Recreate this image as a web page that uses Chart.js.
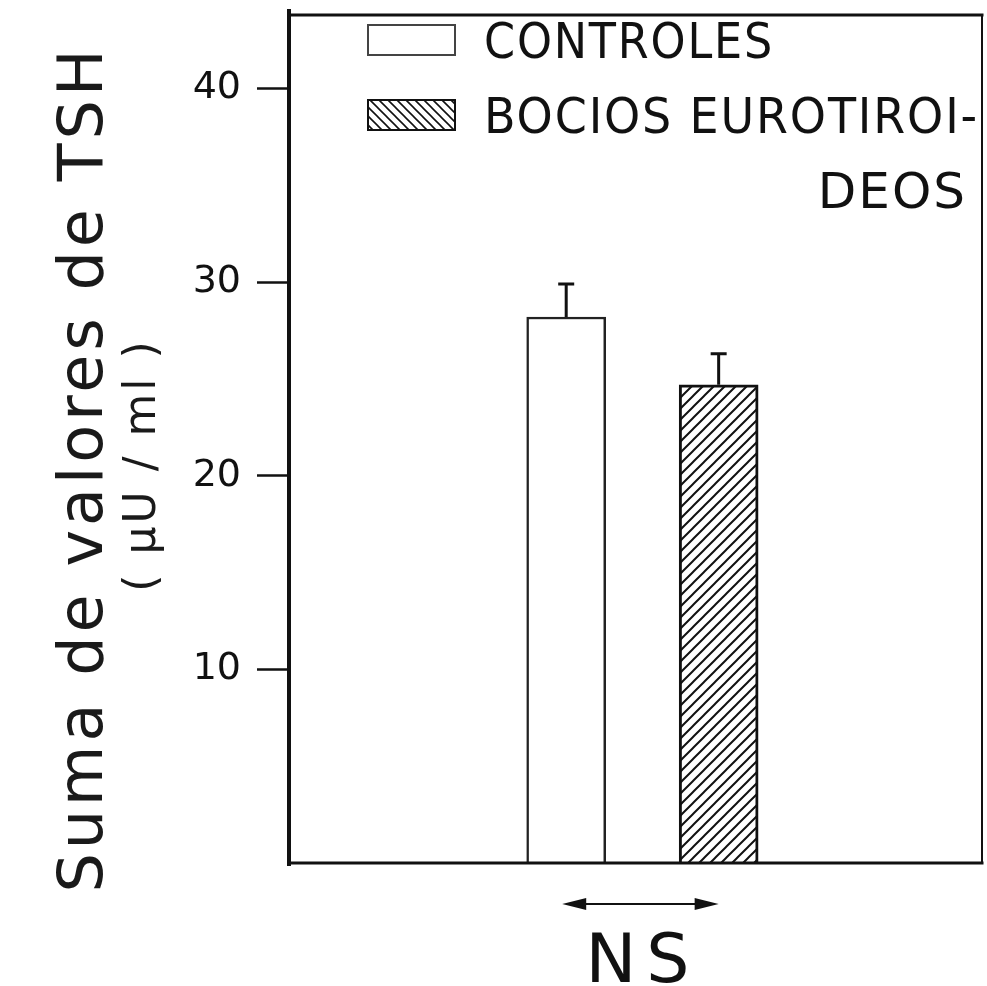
<!DOCTYPE html>
<html>
<head>
<meta charset="utf-8">
<script src="https://cdn.jsdelivr.net/npm/chart.js@4.4.0/dist/chart.umd.min.js"></script>
<style>
  html, body { margin: 0; padding: 0; background: #fff; }
  #wrap { width: 987px; height: 986px; }
</style>
</head>
<body>
<div id="wrap"><canvas id="tshChart"></canvas></div>
<script>
// TSH sums per group, mean and error
const groups = ['CONTROLES', 'BOCIOS EUROTIROIDEOS'];
const legendLines = [['CONTROLES'], ['BOCIOS EUROTIROI-', 'DEOS']];
const tshMeans = [28.2, 24.7];
const tshErrors = [1.7, 1.6];
const yTicks = [10, 20, 30, 40];
const axisTitle = ['Suma de valores de TSH', '( µU / ml )'];
const diffLabel = 'NS';

// where each group sits along the hidden x scale (0..10)
const groupX = [4.0, 6.2];

const INK = '#111';
const FONT = '"DejaVu Sans", sans-serif';

// small tiled pattern of diagonal lines
const makeHatch = (size, dir, width) => {
    const c = document.createElement('canvas');
    c.width = c.height = size;
    const g = c.getContext('2d');
    g.fillStyle = '#fff';
    g.fillRect(0, 0, size, size);
    g.strokeStyle = INK;
    g.lineWidth = width;
    g.beginPath();
    if (dir === '/') {
        g.moveTo(0, size); g.lineTo(size, 0);
        g.moveTo(-2, 2); g.lineTo(2, -2);
        g.moveTo(size - 2, size + 2); g.lineTo(size + 2, size - 2);
    } else {
        g.moveTo(0, 0); g.lineTo(size, size);
        g.moveTo(size - 2, -2); g.lineTo(size + 2, 2);
        g.moveTo(-2, size - 2); g.lineTo(2, size + 2);
    }
    g.stroke();
    return g.createPattern(c, 'repeat');
};

const barHatch = makeHatch(11, '/', 2);
const keyHatch = makeHatch(9, '\\', 1.6);

const drawText = (ctx, text, x, y, size, opts = {}) => {
    ctx.font = `${size}px ${FONT}`;
    ctx.letterSpacing = (opts.spacing || 0) + 'px';
    ctx.textAlign = opts.align || 'left';
    ctx.textBaseline = 'alphabetic';
    if (opts.maxWidth) {
        ctx.fillText(text, x, y, opts.maxWidth);
    } else {
        ctx.fillText(text, x, y);
    }
};

// vertical error whiskers above each bar
const errorBars = {
    id: 'errorBars',
    afterDatasetsDraw(chart) {
        const { ctx, scales: { y } } = chart;
        ctx.save();
        ctx.strokeStyle = INK;
        ctx.lineWidth = 3;
        chart.data.datasets.forEach((ds, i) => {
            const bar = chart.getDatasetMeta(i).data[0];
            const top = y.getPixelForValue(tshMeans[i] + tshErrors[i]);
            ctx.beginPath();
            ctx.moveTo(bar.x, bar.y);
            ctx.lineTo(bar.x, top);
            ctx.moveTo(bar.x - 8, top);
            ctx.lineTo(bar.x + 8, top);
            ctx.stroke();
        });
        ctx.restore();
    }
};

// box around the plot, heavy on the left and bottom
const frame = {
    id: 'frame',
    afterDraw(chart) {
        const { ctx, chartArea: a } = chart;
        ctx.save();
        ctx.strokeStyle = INK;
        ctx.lineCap = 'square';
        ctx.lineWidth = 2;
        ctx.beginPath();
        ctx.moveTo(a.right, a.top); ctx.lineTo(a.right, a.bottom);
        ctx.stroke();
        ctx.lineWidth = 3;
        ctx.beginPath();
        ctx.moveTo(a.left, a.top); ctx.lineTo(a.right, a.top);
        ctx.moveTo(a.left, a.bottom); ctx.lineTo(a.right, a.bottom);
        ctx.stroke();
        ctx.lineWidth = 4;
        ctx.beginPath();
        ctx.moveTo(a.left, a.top - 4); ctx.lineTo(a.left, a.bottom + 1);
        ctx.stroke();
        ctx.restore();
    }
};

// key in the upper part of the plot
const keyBox = {
    id: 'keyBox',
    afterDraw(chart) {
        const { ctx, chartArea: a } = chart;
        const rows = [a.top + 10, a.top + 85];
        ctx.save();
        chart.data.datasets.forEach((ds, i) => {
            const top = rows[i];
            ctx.fillStyle = i === 0 ? '#fff' : keyHatch;
            ctx.fillRect(a.left + 79, top, 87, 30);
            ctx.strokeStyle = i === 0 ? '#444' : INK;
            ctx.lineWidth = 2;
            ctx.strokeRect(a.left + 79, top, 87, 30);
            ctx.fillStyle = INK;
            const lines = legendLines[i];
            drawText(ctx, lines[0], a.left + 195, top + 33, 50, { spacing: 2, maxWidth: lines.length > 1 ? 495 : 290 });
            if (lines[1]) {
                drawText(ctx, lines[1], a.left + 678, top + 108, 50, { spacing: 2, align: 'right' });
            }
        });
        ctx.restore();
    }
};

// rotated axis title and the NS comparison arrow
const annotations = {
    id: 'annotations',
    afterDraw(chart) {
        const { ctx, chartArea: a, scales: { x } } = chart;
        ctx.save();
        ctx.fillStyle = '#1a1a1a';

        ctx.save();
        ctx.translate(102, 469);
        ctx.rotate(-Math.PI / 2);
        drawText(ctx, axisTitle[0], 0, 0, 62, { spacing: 4, align: 'center' });
        ctx.restore();

        ctx.save();
        ctx.translate(155, 465);
        ctx.rotate(-Math.PI / 2);
        drawText(ctx, axisTitle[1], 0, 0, 44, { spacing: 3, align: 'center' });
        ctx.restore();

        const x0 = x.getPixelForValue(groupX[0]) - 4;
        const x1 = x.getPixelForValue(groupX[1]);
        const ay = a.bottom + 41;
        ctx.strokeStyle = INK;
        ctx.lineWidth = 2;
        ctx.beginPath();
        ctx.moveTo(x0 + 10, ay); ctx.lineTo(x1 - 10, ay);
        ctx.stroke();
        ctx.fillStyle = INK;
        ctx.beginPath();
        ctx.moveTo(x0, ay); ctx.lineTo(x0 + 24, ay - 6); ctx.lineTo(x0 + 24, ay + 6); ctx.closePath();
        ctx.moveTo(x1, ay); ctx.lineTo(x1 - 24, ay - 6); ctx.lineTo(x1 - 24, ay + 6); ctx.closePath();
        ctx.fill();

        drawText(ctx, diffLabel, (x0 + x1) / 2 + 2, a.bottom + 119, 68, { spacing: 10, align: 'center' });
        ctx.restore();
    }
};

const ctx = document.getElementById('tshChart').getContext('2d');
new Chart(ctx, {
    type: 'bar',
    data: {
        datasets: groups.map((g, i) => ({
            label: g,
            data: [{ x: groupX[i], y: tshMeans[i] }],
            backgroundColor: i === 0 ? '#fff' : barHatch,
            borderColor: i === 0 ? '#222' : INK,
            borderWidth: i === 0 ? 2.5 : 3,
            barThickness: 79,
            grouped: false,
        })),
    },
    options: {
        responsive: true,
        maintainAspectRatio: false,
        animation: false,
        layout: { padding: { left: 0, top: 15, right: 5, bottom: 123 } },
        plugins: {
            legend: { display: false },
            tooltip: { enabled: false },
        },
        scales: {
            x: {
                type: 'linear',
                min: 0,
                max: 10,
                offset: false,
                display: false,
            },
            y: {
                min: 0,
                max: 43.8,
                afterBuildTicks: (s) => { s.ticks = yTicks.map(v => ({ value: v })); },
                afterFit: (s) => {
                    s.width = 289;
                    // tick labels sit well inside the range, no extra room needed
                    s.paddingTop = 0;
                    s.paddingBottom = 0;
                },
                border: { display: false },
                grid: {
                    drawOnChartArea: false,
                    drawTicks: true,
                    tickLength: 32,
                    tickWidth: 2.5,
                    tickColor: INK,
                },
                ticks: {
                    padding: 16,
                    color: INK,
                    font: { family: 'DejaVu Sans', size: 38 },
                },
            },
        },
    },
    plugins: [errorBars, frame, keyBox, annotations],
});
</script>
</body>
</html>
